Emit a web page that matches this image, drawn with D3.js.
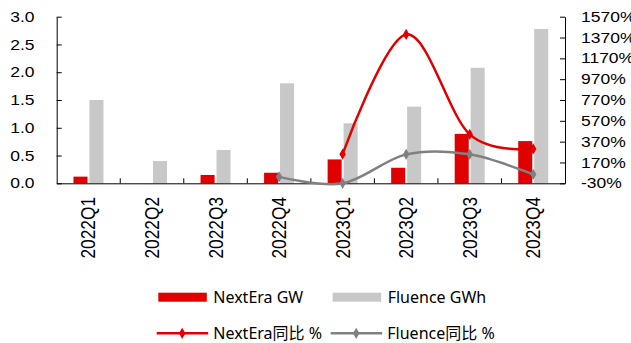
<!DOCTYPE html>
<html><head><meta charset="utf-8">
<script src="https://cdn.jsdelivr.net/npm/d3@7"></script>
<style>
body{margin:0;background:#fff;}
svg{display:block;}
</style></head>
<body><svg id="c" width="631" height="343"></svg>
<script>
const categories = ["2022Q1","2022Q2","2022Q3","2022Q4","2023Q1","2023Q2","2023Q3","2023Q4"];
const nextEraGW = [0.12, 0, 0.15, 0.19, 0.43, 0.28, 0.89, 0.76];
const fluenceGWh = [1.5, 0.4, 0.6, 1.8, 1.08, 1.38, 2.08, 2.78];
const nextEraYoY = [null, null, null, null, 250, 1400, 440, 300];
const fluenceYoY = [null, null, null, 32, -30, 248, 248, 56];
const leftTicks = [0, 0.5, 1.0, 1.5, 2.0, 2.5, 3.0];
const rightTicks = [-30, 170, 370, 570, 770, 970, 1170, 1370, 1570];
const barSeries = ["NextEra GW", "Fluence GWh"];
const lineSeries = ["NextEra同比 %", "Fluence同比 %"];

const RED = "#e00000", GREYBAR = "#c8c8c8", GREYLINE = "#808080";
const svg = d3.select("#c");
const L = 56.7, R = 565, T = 16.7, B = 183.3;

const x = d3.scaleBand().domain(categories).range([L, R]);
const xs = d3.scaleBand().domain(barSeries).range([-15, 15]).paddingInner(0.12);
const y = d3.scaleLinear().domain([0, 3]).range([B, T]);
const y2 = d3.scaleLinear().domain([-30, 1570]).range([B, T]);

const axisFont = "'Liberation Sans', Arial, sans-serif";

// bars
const barData = [nextEraGW, fluenceGWh];
barSeries.forEach((s, si) => {
  svg.append("g").selectAll("rect").data(categories).join("rect")
    .attr("x", d => x(d) + x.bandwidth()/2 + xs(s))
    .attr("width", xs.bandwidth())
    .attr("y", (d,i) => y(barData[si][i]))
    .attr("height", (d,i) => B - y(barData[si][i]))
    .attr("fill", si === 0 ? RED : GREYBAR);
});

// axes
const gL = svg.append("g").attr("transform", `translate(${L},0)`)
  .call(d3.axisRight(y).tickValues(leftTicks).tickSize(5).tickSizeOuter(0));
gL.selectAll("text").remove();
svg.append("g").selectAll("text").data(leftTicks).join("text")
  .attr("transform", d => `translate(34.5,${y(d)}) scale(1.25,1)`)
  .attr("dy", "0.36em").attr("text-anchor", "end")
  .attr("font-family", axisFont).attr("font-size", 14).attr("fill", "#000")
  .text(d3.format(".1f"));

const gR = svg.append("g").attr("transform", `translate(${R},0)`)
  .call(d3.axisLeft(y2).tickValues(rightTicks).tickSize(5).tickSizeOuter(0));
gR.selectAll("text").remove();
svg.append("g").selectAll("text").data(rightTicks).join("text")
  .attr("transform", d => `translate(581,${y2(d)}) scale(1.25,1)`)
  .attr("dy", "0.36em").attr("text-anchor", "start")
  .attr("font-family", axisFont).attr("font-size", 14).attr("fill", "#000")
  .text(d => d + "%");

const gX = svg.append("g").attr("transform", `translate(0,${B})`)
  .call(d3.axisTop(x).tickSize(0).tickFormat(""));
gX.selectAll(".tick").remove();
svg.append("g").selectAll("line").data(categories.slice(1)).join("line")
  .attr("x1", d => x(d)).attr("x2", d => x(d)).attr("y1", B - 5).attr("y2", B)
  .attr("stroke", "#000");
[gL, gR, gX].forEach(g => g.selectAll("path,line").attr("stroke", "#000"));

svg.append("g").selectAll("text").data(categories).join("text")
  .attr("transform", d => `translate(${x(d) + x.bandwidth()/2 + 7},${197}) scale(1.13,1) rotate(-90)`)
  .attr("text-anchor", "end")
  .attr("font-family", axisFont).attr("font-size", 17.3).attr("fill", "#000")
  .text(d => d);

// lines
const line = d3.line().defined(d => d.v != null)
  .x(d => x(d.c) + x.bandwidth()/2).y(d => y2(d.v))
  .curve(d3.curveCardinal.tension(0));
const lineData = [nextEraYoY, fluenceYoY];
const lineColors = [RED, GREYLINE];
const diamond = d3.symbol().type(d3.symbolDiamond).size(36);
lineData.slice().reverse().forEach((vals, ri) => {
  const li = lineData.length - 1 - ri;
  const pts = categories.map((c, i) => ({c, v: vals[i]})).filter(d => d.v != null);
  svg.append("path").datum(pts).attr("d", line)
    .attr("fill", "none").attr("stroke", lineColors[li]).attr("stroke-width", 2.5);
  svg.append("g").selectAll("path").data(pts).join("path")
    .attr("d", diamond)
    .attr("transform", d => `translate(${x(d.c) + x.bandwidth()/2},${y2(d.v)})`)
    .attr("fill", lineColors[li]);
});

// legend
const legFont = "'Noto Sans', 'Noto Sans CJK SC', sans-serif";
const lg = svg.append("g");
const legBarX = [158.3, 332.7];
barSeries.forEach((s, i) => {
  lg.append("rect").attr("x", legBarX[i]).attr("y", 292.7).attr("width", 48.5).attr("height", 9)
    .attr("fill", i === 0 ? RED : GREYBAR);
  lg.append("text").attr("x", legBarX[i] + 55).attr("y", 297).attr("dy", "0.35em")
    .attr("font-family", legFont).attr("font-size", 16).attr("fill", "#000").text(s);
});
const legLineX = [156.7, 330.7];
lineSeries.forEach((s, i) => {
  lg.append("line").attr("x1", legLineX[i]).attr("x2", legLineX[i] + 51.5)
    .attr("y1", 333.3).attr("y2", 333.3).attr("stroke", lineColors[i]).attr("stroke-width", 2.5);
  lg.append("path").attr("d", diamond)
    .attr("transform", `translate(${legLineX[i] + 25.5},333.3)`).attr("fill", lineColors[i]);
  lg.append("text").attr("x", legLineX[i] + 56.6).attr("y", 333.3).attr("dy", "0.35em")
    .attr("font-family", legFont).attr("font-size", 16).attr("fill", "#000").text(s);
});
</script></body></html>
